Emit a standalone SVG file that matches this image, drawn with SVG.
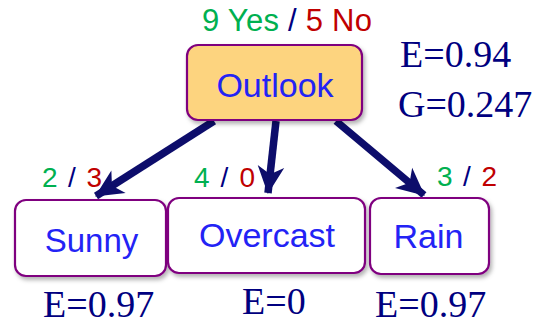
<svg xmlns="http://www.w3.org/2000/svg" width="539" height="324" viewBox="0 0 539 324">
<defs>
<filter id="sh" x="-10%" y="-10%" width="130%" height="140%">
<feDropShadow dx="2" dy="3" stdDeviation="2" flood-color="#000" flood-opacity="0.3"/>
</filter>
<marker id="ah" markerUnits="userSpaceOnUse" markerWidth="30" markerHeight="30" viewBox="-25 -13 27 26" refX="0" refY="0" orient="auto">
<path d="M1,0 L-24,-12 L-17,0 L-24,12 Z" fill="#0d0d6b"/>
</marker>
<style>
.box{stroke:#7f007f;stroke-width:2.2;}
.node{font-family:"Liberation Sans",Arial,sans-serif;fill:#2323f5;text-anchor:middle;}
.cnt{font-family:"Liberation Sans",Arial,sans-serif;}
.g{fill:#00b050}.r{fill:#c00000}.s{fill:#000080}
.ent{font-family:"Liberation Serif","Times New Roman",serif;fill:#000080;font-size:38px;}
.conn{stroke:#0d0d6b;stroke-width:7.5;fill:none;marker-end:url(#ah);}
</style>
</defs>
<rect width="539" height="324" fill="#fff"/>
<g id="connectors">
<line class="conn" x1="214" y1="121" x2="96" y2="196"/>
<line class="conn" x1="276" y1="121" x2="268" y2="193"/>
<line class="conn" x1="336" y1="121" x2="424" y2="195"/>
</g>
<g id="outlook">
<rect class="box" x="187" y="45" width="175" height="75" rx="11" fill="#fdd47f" filter="url(#sh)"/>
<text class="node" x="275" y="97" font-size="34">Outlook</text>
<text class="cnt" x="202" y="31" font-size="31" textLength="170"><tspan class="g">9 Yes </tspan><tspan class="s">/ </tspan><tspan class="r">5 No</tspan></text>
<text class="ent" x="400" y="67">E=0.94</text>
<text class="ent" x="398" y="117">G=0.247</text>
</g>
<g id="sunny">
<rect class="box" x="15" y="200" width="151" height="76" rx="11" fill="#fff" filter="url(#sh)"/>
<text class="node" x="91.5" y="252" font-size="33">Sunny</text>
<text class="cnt" x="42" y="187" font-size="28" textLength="60"><tspan class="g">2 </tspan><tspan class="s">/ </tspan><tspan class="r">3</tspan></text>
<text class="ent" x="43" y="317">E=0.97</text>
</g>
<g id="overcast">
<rect class="box" x="168" y="198" width="197" height="75" rx="11" fill="#fff" filter="url(#sh)"/>
<text class="node" x="267" y="247" font-size="34">Overcast</text>
<text class="cnt" x="194" y="187" font-size="28" textLength="61"><tspan class="g">4 </tspan><tspan class="s">/ </tspan><tspan class="r">0</tspan></text>
<text class="ent" x="242" y="314">E=0</text>
</g>
<g id="rain">
<rect class="box" x="370" y="198" width="119" height="76" rx="11" fill="#fff" filter="url(#sh)"/>
<text class="node" x="428.5" y="248" font-size="34">Rain</text>
<text class="cnt" x="437" y="186" font-size="28" textLength="60"><tspan class="g">3 </tspan><tspan class="s">/ </tspan><tspan class="r">2</tspan></text>
<text class="ent" x="375" y="317">E=0.97</text>
</g>
</svg>
